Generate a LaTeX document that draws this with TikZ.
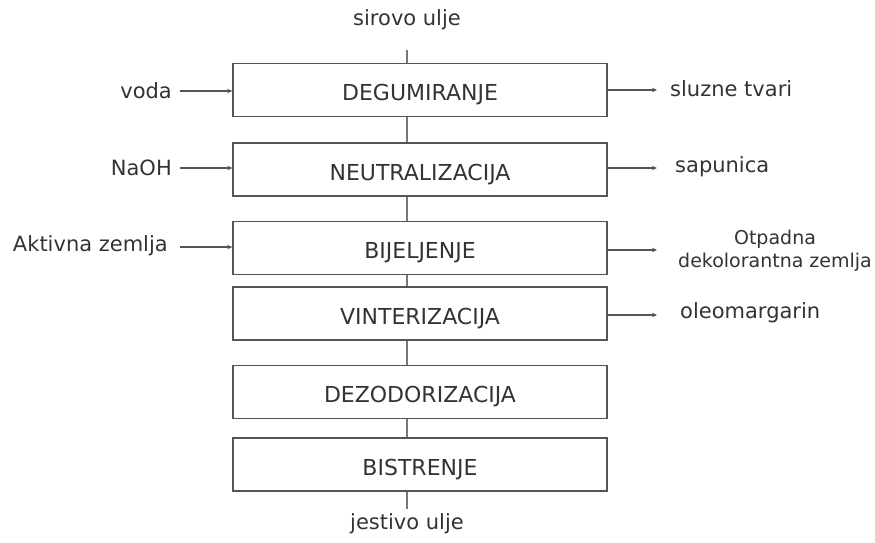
\documentclass[tikz,border=0pt]{standalone}
\usepackage{fontspec}
\setmainfont{DejaVu Sans}
\usetikzlibrary{arrows.meta}
\definecolor{ink}{HTML}{333333}
\definecolor{edge}{HTML}{555555}
\definecolor{vline}{HTML}{777777}
\begin{document}
\begin{tikzpicture}[x=1pt,y=-1pt,
  every node/.style={text=ink,font=\fontsize{21}{25}\selectfont},
  stepbox/.style={draw=edge,line width=1.4pt,minimum width=374pt,minimum height=53pt,inner sep=0pt,text height=21pt,text depth=0pt,font=\fontsize{22}{26}\selectfont},
  lbl/.style={inner sep=0pt},
  conn/.style={draw=vline,line width=1.1pt},
  arr/.style={draw=edge,line width=1.1pt,-{Stealth[length=5pt,width=4.5pt]}}]
\useasboundingbox (0,0) rectangle (875,542);
\node[stepbox] (b1) at (420,90) {DEGUMIRANJE};
\node[stepbox] (b2) at (420,169.5) {NEUTRALIZACIJA};
\node[stepbox] (b3) at (420,248) {BIJELJENJE};
\node[stepbox] (b4) at (420,313.5) {VINTERIZACIJA};
\node[stepbox] (b5) at (420,392) {DEZODORIZACIJA};
\node[stepbox] (b6) at (420,464.5) {BISTRENJE};
\coordinate (vx) at (407,0);
\node[lbl] (in) at (407,20) {sirovo ulje};
\node[lbl] (out) at (407,524) {jestivo ulje};
\coordinate (inend) at (407,50);
\coordinate (outend) at (407,509);
\draw[conn] (inend) -- (b1.north -| vx);
\draw[conn] (b1.south -| vx) -- (b2.north -| vx);
\draw[conn] (b2.south -| vx) -- (b3.north -| vx);
\draw[conn] (b3.south -| vx) -- (b4.north -| vx);
\draw[conn] (b4.south -| vx) -- (b5.north -| vx);
\draw[conn] (b5.south -| vx) -- (b6.north -| vx);
\draw[conn] (b6.south -| vx) -- (outend);
% left inputs
\node[lbl,anchor=east] (l1) at (172,91) {voda};
\node[lbl,anchor=east] (l2) at (172,168) {NaOH};
\node[lbl,anchor=east] (l3) at (168,246) {Aktivna zemlja};
\coordinate (a1) at (180,91);
\coordinate (a2) at (180,168);
\coordinate (a3) at (180,247);
\draw[arr] (a1) -- (b1.west |- a1);
\draw[arr] (a2) -- (b2.west |- a2);
\draw[arr] (a3) -- (b3.west |- a3);
% right outputs
\coordinate (r1) at (657,90);
\coordinate (r2) at (657,168);
\coordinate (r3) at (657,250);
\coordinate (r4) at (657,315);
\draw[arr] (b1.east |- r1) -- (r1);
\draw[arr] (b2.east |- r2) -- (r2);
\draw[arr] (b3.east |- r3) -- (r3);
\draw[arr] (b4.east |- r4) -- (r4);
\node[lbl,anchor=west] (o1) at (670,89) {sluzne tvari};
\node[lbl,anchor=west] (o2) at (675,167) {sapunica};
\node[lbl,align=center,font=\fontsize{19}{23}\selectfont] (o3) at (775,251) {Otpadna\\dekolorantna zemlja};
\node[lbl,anchor=west] (o4) at (680,313) {oleomargarin};
\end{tikzpicture}
\end{document}
